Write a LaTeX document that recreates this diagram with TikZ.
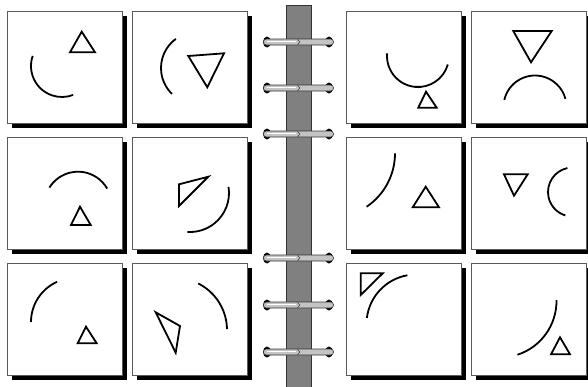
\documentclass[tikz,border=0pt]{standalone}
\definecolor{spinegray}{HTML}{808080}
\definecolor{rodgray}{HTML}{C4C4C4}
\definecolor{boxedge}{HTML}{5A5A5A}
\tikzset{
  panelbox/.style={draw=boxedge, line width=0.8pt, fill=white},
  panelshadow/.style={fill=black},
  glyph/.style={draw=black, line width=1.8pt, line cap=butt, line join=miter},
  spinebar/.style={fill=spinegray, draw=black!80, line width=0.8pt},
  rod/.style={fill=rodgray, draw=black!80, line width=0.6pt, rounded corners=2.8pt},
}
\newcommand{\mypanel}[2]{%
  \fill[panelshadow] (#1+5,#2+5) rectangle ++(115,112);
  \draw[panelbox] (#1,#2) rectangle ++(115,112);}
\newcommand{\myarc}[5]{%
  \draw[glyph] ([shift={(#4:#3)}]#1,#2) arc[start angle=#4,end angle=#5,radius=#3];}
\newcommand{\myring}[1]{%
  \fill[black] (267,#1) ellipse[x radius=4, y radius=5.5];
  \fill[black] (329,#1) ellipse[x radius=4, y radius=5.5];
  \draw[rod] (263.5,#1-3) rectangle (333.5,#1+3);
  \draw[white, line width=1.3pt] (267,#1-0.8) -- (296,#1-0.8);
  \draw[black!75, line width=0.6pt] (297.5,#1-2.6) -- (300,#1) -- (297.5,#1+2.6);}
\begin{document}
\begin{tikzpicture}[x=1pt,y=-1pt]
\useasboundingbox (0,0) rectangle (588,386);
\clip (0,0) rectangle (588,386);
\fill[white] (0,0) rectangle (588,386);
% panels
\mypanel{7}{11}\mypanel{132}{11}\mypanel{346}{11}\mypanel{471}{11}
\mypanel{7}{137}\mypanel{132}{137}\mypanel{346}{137}\mypanel{471}{137}
\mypanel{7}{263}\mypanel{132}{263}\mypanel{346}{263}\mypanel{471}{263}
% spine and rings
\draw[spinebar] (286,5) rectangle (311,392);
\myring{42}\myring{88}\myring{134}\myring{258}\myring{305}\myring{352}
% A
\draw[glyph] (81.7,31.7) -- (70,52.3) -- (95,52.3) -- cycle;
\myarc{62}{66}{31}{199}{69}
% B
\draw[glyph] (188.3,56) -- (224,53.3) -- (207.3,87.3) -- cycle;
\myarc{197}{68}{36}{234}{134}
% C
\myarc{418}{56}{31}{185}{16}
\draw[glyph] (426,91.7) -- (418.3,107.7) -- (436.7,107.7) -- cycle;
% D
\draw[glyph] (513.3,31) -- (551.7,31) -- (531,62.3) -- cycle;
\myarc{535}{107}{31.5}{-167}{-15}
% E
\myarc{78}{205.4}{33.7}{-148}{-30}
\draw[glyph] (80,206.7) -- (71,225) -- (90.7,225) -- cycle;
% F
\draw[glyph] (179,184.3) -- (208.3,176.7) -- (179,206) -- cycle;
\myarc{190}{193}{39}{-9}{94}
% G
\myarc{330.5}{153.3}{64.5}{0}{56}
\draw[glyph] (425.7,186.7) -- (412.7,207.3) -- (439,207.3) -- cycle;
% H
\draw[glyph] (504,174.3) -- (527.7,174.3) -- (514,195.7) -- cycle;
\myarc{572.5}{192}{24.5}{258}{107}
% I
\myarc{75}{322}{44}{-114}{-180}
\draw[glyph] (86,326.7) -- (77.7,343.3) -- (96.7,343.3) -- cycle;
% J
\draw[glyph] (155.7,312.3) -- (180,326) -- (175.7,352.7) -- cycle;
\myarc{175}{330}{52}{-63.5}{-1}
% K
\draw[glyph] (360.7,273.3) -- (382.7,273.3) -- (360.7,295) -- cycle;
\myarc{416}{324}{49.5}{260}{187}
% L
\myarc{500}{301}{56.5}{-1}{72}
\draw[glyph] (560,337.3) -- (551,354.3) -- (570,354.3) -- cycle;
\end{tikzpicture}
\end{document}
